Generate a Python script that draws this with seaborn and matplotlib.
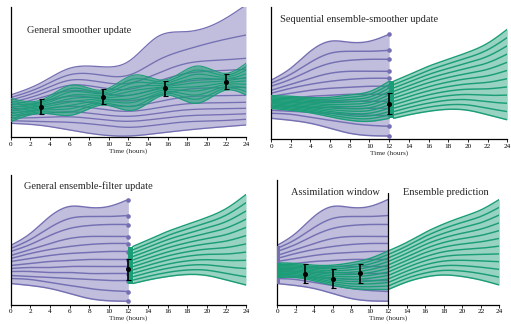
import numpy as np
import pandas as pd
import matplotlib
matplotlib.use("Agg")
import matplotlib.pyplot as plt
import seaborn as sns

# ---------------- data ----------------
hour_ticks = [0, 2, 4, 6, 8, 10, 12, 14, 16, 18, 20, 22, 24]

# Panel 1: general smoother update (prior ensemble over 0-24 h)
p1_times = [0, 3, 6, 9, 12, 15, 18, 21, 24]
p1_prior = [
    [42.3, 54.0, 69.0, 70.7, 75.7, 100.7, 105.7, 114.0, 132.3],
    [39.7, 50.0, 62.5, 62.5, 62.0, 77.0, 88.0, 96.0, 102.3],
    [37.2, 46.5, 57.0, 55.5, 54.0, 64.0, 74.0, 77.0, 79.0],
    [34.6, 43.0, 52.0, 50.0, 48.0, 56.0, 64.0, 66.5, 68.0],
    [32.0, 39.5, 46.5, 44.5, 42.0, 49.0, 56.0, 58.0, 59.0],
    [29.4, 35.0, 41.0, 39.0, 36.5, 42.0, 48.0, 49.5, 50.0],
    [26.9, 31.5, 36.0, 33.5, 31.0, 35.5, 40.5, 41.5, 42.0],
    [24.3, 27.5, 31.0, 28.5, 26.0, 29.5, 33.5, 34.5, 35.0],
    [21.7, 23.5, 25.5, 23.0, 21.0, 24.0, 27.5, 28.5, 29.0],
    [19.1, 19.8, 20.5, 18.0, 16.0, 18.5, 21.5, 22.5, 23.5],
    [16.6, 15.8, 15.0, 12.5, 10.0, 12.5, 15.5, 16.5, 18.0],
    [14.0, 12.0, 7.3, 2.7, 1.3, 4.0, 7.3, 10.0, 12.3],
]
p1_post_times = [0, 3.1, 6.3, 9.4, 12.6, 15.7, 19.0, 22.0, 24.0]
p1_post = [
    [39.0, 37.3, 52.3, 47.3, 62.3, 57.3, 71.3, 64.0, 74.0],
    [36.4, 35.8, 49.0, 45.6, 58.4, 55.6, 67.2, 62.1, 70.5],
    [33.8, 34.3, 45.6, 44.0, 54.5, 54.0, 63.0, 60.3, 67.0],
    [31.2, 32.9, 42.3, 42.3, 50.6, 52.3, 58.9, 58.4, 63.4],
    [28.6, 31.4, 39.0, 40.6, 46.7, 50.6, 54.7, 56.6, 59.9],
    [26.1, 29.9, 35.6, 39.0, 42.9, 49.0, 50.6, 54.7, 56.4],
    [23.5, 28.4, 32.3, 37.3, 39.0, 47.3, 46.4, 52.9, 52.9],
    [20.9, 27.0, 29.0, 35.6, 35.1, 45.6, 42.3, 51.0, 49.3],
    [18.3, 25.5, 25.6, 34.0, 31.2, 44.0, 38.1, 49.2, 45.8],
    [15.7, 24.0, 22.3, 32.3, 27.3, 42.3, 34.0, 47.3, 42.3],
]
p1_obs_t = [3.1, 9.4, 15.7, 22.0]
p1_obs_y = [30.7, 40.7, 49.0, 55.7]
p1_obs_err = [7.3, 7.3, 7.3, 7.3]

# Panels 2-4: prior ensemble over the 0-12 h window
window_times = [0, 2, 4, 6, 8, 10, 12]
prior_window = [
    [59, 71, 88, 98, 97, 98, 105],
    [56, 65, 77, 86, 88, 88, 89],
    [53, 60, 69, 76, 79, 80, 80],
    [49, 55, 61, 66, 68, 68, 68],
    [46, 51, 55, 58, 60, 61, 61],
    [43, 46, 49, 51, 52, 53, 53],
    [39, 41, 43, 44, 45, 45, 45],
    [36, 37, 37, 38, 38, 38, 38],
    [33, 33, 32, 32, 31, 31, 31],
    [29, 28, 27, 26, 25, 24, 24],
    [26, 25, 22, 19, 16, 14, 13],
    [21, 19, 16, 11, 6, 3.7, 3.3],
]
# Panel 2: smoothed ensemble over the window
smooth2 = [
    [43.7, 43.0, 41.7, 42.0, 44.3, 47.7, 58.0],
    [42.5, 41.7, 40.3, 40.2, 42.0, 45.0, 54.6],
    [41.4, 40.5, 38.9, 38.5, 39.7, 42.3, 51.3],
    [40.2, 39.2, 37.6, 36.7, 37.4, 39.6, 47.9],
    [39.1, 37.9, 36.2, 34.9, 35.1, 36.9, 44.5],
    [37.9, 36.7, 34.8, 33.2, 32.8, 34.2, 41.2],
    [36.8, 35.4, 33.4, 31.4, 30.5, 31.5, 37.8],
    [35.6, 34.1, 32.0, 29.6, 28.2, 28.8, 34.5],
    [34.5, 32.8, 30.7, 27.8, 25.9, 26.1, 31.1],
    [33.3, 31.5, 29.3, 26.1, 23.6, 23.4, 27.7],
    [32.2, 30.3, 27.9, 24.3, 21.3, 20.7, 24.4],
    [31.0, 29.0, 26.5, 22.5, 19.0, 18.0, 21.0],
]
# Panels 2-3: forecast from the analysis at 12 h
forecast_times = [12.45, 14, 16, 18, 20, 22, 24]
forecast = [
    [58.0, 64.5, 73.0, 80.0, 87.0, 96.0, 110.0],
    [54.6, 60.9, 68.9, 75.5, 81.7, 89.5, 101.8],
    [51.3, 57.2, 64.8, 70.9, 76.5, 83.0, 93.5],
    [47.9, 53.6, 60.7, 66.4, 71.2, 76.5, 85.3],
    [44.5, 50.0, 56.6, 61.8, 65.9, 70.0, 77.1],
    [41.2, 46.3, 52.5, 57.3, 60.7, 63.5, 68.9],
    [37.8, 42.7, 48.5, 52.7, 55.4, 57.0, 60.6],
    [34.5, 39.1, 44.4, 48.2, 50.1, 50.5, 52.4],
    [31.1, 35.4, 40.3, 43.6, 44.8, 44.0, 44.2],
    [27.7, 31.8, 36.2, 39.1, 39.6, 37.5, 36.0],
    [24.4, 28.1, 32.1, 34.5, 34.3, 31.0, 27.7],
    [21.0, 24.5, 28.0, 30.0, 29.0, 24.5, 19.5],
]
obs12_t = [12.0]
obs12_y = [35.5]
obs12_err = [10.5]

# Panel 4: smoothed window + prediction
smooth4 = [
    [41.7, 41.0, 39.3, 39.3, 41.7, 46.0, 53.5],
    [40.4, 39.7, 37.9, 37.5, 39.4, 43.2, 50.0],
    [39.0, 38.5, 36.5, 35.7, 37.0, 40.4, 46.5],
    [37.7, 37.2, 35.0, 33.8, 34.7, 37.5, 43.0],
    [36.3, 35.9, 33.6, 32.0, 32.3, 34.7, 39.5],
    [35.0, 34.6, 32.2, 30.2, 30.0, 31.9, 36.0],
    [33.7, 33.4, 30.8, 28.4, 27.7, 29.1, 32.5],
    [32.3, 32.1, 29.4, 26.6, 25.3, 26.3, 29.0],
    [31.0, 30.8, 27.9, 24.7, 23.0, 23.4, 25.5],
    [29.7, 29.5, 26.5, 22.9, 20.7, 20.6, 22.0],
    [28.3, 28.3, 25.1, 21.1, 18.3, 17.8, 18.5],
    [27.0, 27.0, 23.7, 19.3, 16.0, 15.0, 15.0],
]
prediction_times = [12, 14, 16, 18, 20, 22, 24]
prediction4 = [
    [53.5, 62.0, 72.0, 80.5, 87.5, 94.5, 105.0],
    [50.0, 58.4, 68.0, 75.9, 82.1, 88.1, 97.2],
    [46.5, 54.8, 63.9, 71.2, 76.7, 81.8, 89.5],
    [43.0, 51.2, 59.9, 66.6, 71.3, 75.4, 81.7],
    [39.5, 47.6, 55.8, 62.0, 65.9, 69.1, 73.9],
    [36.0, 44.0, 51.8, 57.3, 60.5, 62.7, 66.1],
    [32.5, 40.5, 47.7, 52.7, 55.0, 56.3, 58.4],
    [29.0, 36.9, 43.7, 48.0, 49.6, 50.0, 50.6],
    [25.5, 33.3, 39.6, 43.4, 44.2, 43.6, 42.8],
    [22.0, 29.7, 35.6, 38.8, 38.8, 37.3, 35.1],
    [18.5, 26.1, 31.5, 34.1, 33.4, 30.9, 27.3],
    [15.0, 22.5, 27.5, 29.5, 28.0, 24.5, 19.5],
]
obs4_t = [3, 6, 9]
obs4_y = [31.0, 26.0, 31.3]
obs4_err = [9.3, 9.3, 9.7]

titles = ["General smoother update", "Sequential ensemble-smoother update",
          "General ensemble-filter update", "Assimilation window", "Ensemble prediction"]

PURPLE = "#7570b3"
GREEN = "#1b9e77"

# ---------------- style ----------------
sns.set_style("ticks")
plt.rcParams["font.family"] = ["Liberation Serif", "DejaVu Serif"]
plt.rcParams["axes.linewidth"] = 0.9


def spline(x, y, n=240):
    """Natural cubic spline used only to draw smooth curves through the read points."""
    x = np.asarray(x, float)
    y = np.asarray(y, float)
    m = len(x)
    h = np.diff(x)
    A = np.zeros((m, m))
    r = np.zeros(m)
    A[0, 0] = A[-1, -1] = 1.0
    for i in range(1, m - 1):
        A[i, i - 1] = h[i - 1]
        A[i, i] = 2 * (h[i - 1] + h[i])
        A[i, i + 1] = h[i]
        r[i] = 3 * ((y[i + 1] - y[i]) / h[i] - (y[i] - y[i - 1]) / h[i - 1])
    c = np.linalg.solve(A, r)
    b = np.diff(y) / h - h * (2 * c[:-1] + c[1:]) / 3
    d = np.diff(c) / (3 * h)
    xs = np.linspace(x[0], x[-1], n)
    idx = np.clip(np.searchsorted(x, xs, side="right") - 1, 0, m - 2)
    dx = xs - x[idx]
    ys = y[idx] + b[idx] * dx + c[idx] * dx ** 2 + d[idx] * dx ** 3
    return xs, ys


def draw_ensemble(ax, times, members, color, alpha=0.45, lw=1.0, zorder=2):
    frames, curves = [], []
    for k, mem in enumerate(members):
        xs, ys = spline(times, mem)
        curves.append(ys)
        frames.append(pd.DataFrame({"t": xs, "y": ys, "member": k}))
    curves = np.array(curves)
    ax.fill_between(xs, curves.max(axis=0), curves.min(axis=0), color=color,
                    alpha=alpha, lw=0, zorder=zorder)
    df = pd.concat(frames, ignore_index=True)
    sns.lineplot(data=df, x="t", y="y", units="member", estimator=None, sort=False,
                 color=color, lw=lw, ax=ax, legend=False, zorder=zorder + 0.5)


def obs(ax, t, y, e):
    ax.errorbar(t, y, yerr=e, fmt="o", color="black", ms=2.6, elinewidth=1.2,
                capsize=1.8, capthick=0.8, zorder=10)


def style(ax, ymax):
    ax.set_xlim(0, 24)
    ax.set_ylim(0, ymax)
    ax.set_xticks(hour_ticks)
    ax.set_xticklabels([str(v) for v in hour_ticks])
    ax.set_yticks([])
    ax.set_ylabel("")
    ax.set_xlabel("Time (hours)", fontsize=5.2, labelpad=1.0)
    for s in ["top", "right"]:
        ax.spines[s].set_visible(False)
    for s in ["left", "bottom"]:
        ax.spines[s].set_color("black")
    ax.tick_params(axis="x", length=2, width=0.6, labelsize=5.2, pad=1.2,
                   direction="out", colors="black")
    ax.set_facecolor("white")


W, H = 511, 324
fig = plt.figure(figsize=(W / 100, H / 100), dpi=100)
fig.patch.set_facecolor("white")


def add_axes(left, right, bottom, top):
    return fig.add_axes([left / W, (H - bottom) / H, (right - left) / W, (bottom - top) / H])


ax1 = add_axes(10.7, 246.0, 137.3, 6.7)
ax2 = add_axes(271.0, 507.3, 139.3, 7.3)
ax3 = add_axes(10.7, 246.0, 304.5, 174.7)
ax4 = add_axes(277.0, 499.3, 304.5, 180.3)

# Panel 1
draw_ensemble(ax1, p1_times, p1_prior, PURPLE, lw=0.95)
draw_ensemble(ax1, p1_post_times, p1_post, GREEN, alpha=0.6, lw=0.8, zorder=4)
obs(ax1, p1_obs_t, p1_obs_y, p1_obs_err)
style(ax1, 130.6)
ax1.text(0.068, 0.815, titles[0], transform=ax1.transAxes, fontsize=7.5, va="center", ha="left")

# Panel 2
draw_ensemble(ax2, window_times, prior_window, PURPLE, lw=1.05)
sns.scatterplot(x=[window_times[-1]] * len(prior_window), y=[m[-1] for m in prior_window],
                color=PURPLE, s=11, linewidth=0, ax=ax2, zorder=3, legend=False)
draw_ensemble(ax2, window_times, smooth2, GREEN, lw=1.0, zorder=4)
draw_ensemble(ax2, forecast_times, forecast, GREEN, lw=1.05, zorder=4)
ax2.fill_betweenx([forecast[-1][0], forecast[0][0]], 12.0, forecast_times[0],
                  color=GREEN, lw=0, zorder=6)
obs(ax2, obs12_t, obs12_y, obs12_err)
style(ax2, 132.0)
ax2.text(0.038, 0.904, titles[1], transform=ax2.transAxes, fontsize=7.5, va="center", ha="left")

# Panel 3
draw_ensemble(ax3, window_times, prior_window, PURPLE, lw=1.05)
sns.scatterplot(x=[window_times[-1]] * len(prior_window), y=[m[-1] for m in prior_window],
                color=PURPLE, s=11, linewidth=0, ax=ax3, zorder=3, legend=False)
draw_ensemble(ax3, forecast_times, forecast, GREEN, lw=1.05, zorder=4)
ax3.fill_betweenx([forecast[-1][0], forecast[0][0]], 12.0, forecast_times[0],
                  color=GREEN, lw=0, zorder=6)
obs(ax3, obs12_t, obs12_y, obs12_err)
style(ax3, 129.8)
ax3.text(0.0565, 0.913, titles[2], transform=ax3.transAxes, fontsize=7.5, va="center", ha="left")

# Panel 4
draw_ensemble(ax4, window_times, prior_window, PURPLE, lw=1.05)
draw_ensemble(ax4, window_times, smooth4, GREEN, lw=1.0, zorder=4)
draw_ensemble(ax4, prediction_times, prediction4, GREEN, lw=1.05, zorder=4)
ax4.fill_betweenx([prior_window[-1][0], prior_window[0][0]], 0, 0.35, color=PURPLE, lw=0, zorder=6)
ax4.fill_betweenx([smooth4[-1][0], smooth4[0][0]], 0, 0.45, color=GREEN, lw=0, zorder=7)
obs(ax4, obs4_t, obs4_y, obs4_err)
style(ax4, 124.2)
ax4.axvline(12, ymin=0, ymax=111.5 / 124.2, color="black", lw=0.9, zorder=9)
ax4.text(0.063, 0.90, titles[3], transform=ax4.transAxes, fontsize=7.5, va="center", ha="left")
ax4.text(0.567, 0.90, titles[4], transform=ax4.transAxes, fontsize=7.5, va="center", ha="left")

fig.savefig("out.png", dpi=100, facecolor="white")
